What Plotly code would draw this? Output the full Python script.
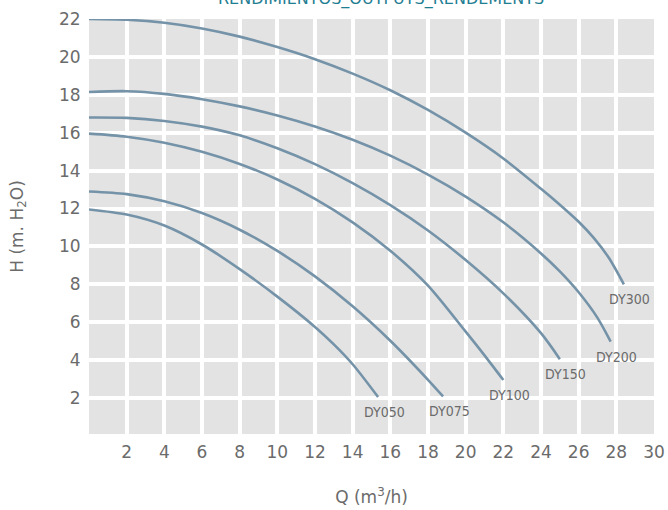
import plotly.graph_objects as go

# ---- data ----
names = ["DY050", "DY075", "DY100", "DY150", "DY200", "DY300"]

q_dy050 = [0, 2, 4, 6, 8, 10, 12, 13, 14, 15.35]
h_dy050 = [11.95, 11.68, 11.1, 10.1, 8.8, 7.35, 5.75, 4.83, 3.78, 2.05]

q_dy075 = [0, 2, 4, 6, 8, 10, 12, 14, 16, 18, 18.8]
h_dy075 = [12.9, 12.76, 12.38, 11.76, 10.88, 9.76, 8.42, 6.84, 5.02, 2.96, 2.08]

q_dy100 = [0, 2, 4, 6, 8, 10, 12, 14, 16, 18, 20, 21, 22]
h_dy100 = [15.95, 15.79, 15.47, 14.99, 14.35, 13.53, 12.51, 11.27, 9.77, 7.93, 5.5, 4.25, 2.95]

q_dy150 = [0, 2, 4, 6, 8, 10, 12, 14, 16, 18, 20, 22, 24, 25]
h_dy150 = [16.8, 16.78, 16.62, 16.32, 15.86, 15.18, 14.34, 13.34, 12.18, 10.84, 9.28, 7.52, 5.42, 4.05]

q_dy200 = [0, 2, 4, 6, 8, 10, 12, 14, 16, 18, 20, 22, 24, 25, 26, 27, 27.7]
h_dy200 = [18.15, 18.19, 18.05, 17.77, 17.39, 16.91, 16.33, 15.63, 14.79, 13.79, 12.63, 11.27, 9.63, 8.68, 7.58, 6.23, 4.97]

q_dy300 = [0, 2, 4, 6, 8, 10, 12, 14, 16, 18, 20, 22, 24, 25, 26, 26.8, 27.6, 28.4]
h_dy300 = [22.0, 21.96, 21.8, 21.5, 21.07, 20.52, 19.88, 19.12, 18.24, 17.2, 16.0, 14.64, 13.04, 12.2, 11.3, 10.45, 9.4, 8.0]

x_ticks = [2, 4, 6, 8, 10, 12, 14, 16, 18, 20, 22, 24, 26, 28, 30]
y_ticks = [2, 4, 6, 8, 10, 12, 14, 16, 18, 20, 22]

title_text = "RENDIMIENTOS_OUTPUTS_RENDEMENTS"
x_title = "Q (m<sup>3</sup>/h)"
y_title = "H (m. H<sub>2</sub>O)"

series = [
    (q_dy050, h_dy050),
    (q_dy075, h_dy075),
    (q_dy100, h_dy100),
    (q_dy150, h_dy150),
    (q_dy200, h_dy200),
    (q_dy300, h_dy300),
]

LINE = "#7593a8"
TXT = "#6b6b6b"
FONT = "DejaVu Sans, sans-serif"
NARROW = "Liberation Sans Narrow, DejaVu Sans Condensed, sans-serif"

fig = go.Figure()
for name, (q, h) in zip(names, series):
    fig.add_trace(go.Scatter(
        x=q, y=h, mode="lines", name=name,
        line=dict(color=LINE, width=2.6, shape="spline", smoothing=0.8),
        hoverinfo="skip",
    ))
    fig.add_annotation(
        x=q[-1], y=h[-1], xref="x", yref="y", text=name, showarrow=False,
        xanchor="center", yanchor="middle", xshift=6, yshift=-15,
        font=dict(family=NARROW, size=14, color=TXT),
    )

fig.add_annotation(
    x=0.517, y=1, xref="paper", yref="paper", text=title_text, showarrow=False,
    xanchor="center", yanchor="bottom", yshift=8,
    font=dict(family=FONT, size=16, color="#1f7e92"),
)

fig.update_layout(
    width=668, height=510,
    margin=dict(l=89, r=14, t=19, b=76),
    paper_bgcolor="white",
    plot_bgcolor="#e3e3e3",
    showlegend=False,
    font=dict(family=FONT, size=17, color=TXT),
)
fig.update_xaxes(
    range=[0, 30], tickvals=x_ticks, ticktext=[str(v) for v in x_ticks],
    showgrid=True, gridcolor="white", gridwidth=3.5, zeroline=False,
    showline=False, ticks="outside", ticklen=3, tickcolor="rgba(0,0,0,0)",
    tickfont=dict(family=FONT, size=17, color=TXT), automargin=False,
    title=dict(text=x_title, font=dict(family=FONT, size=17, color=TXT), standoff=29),
)
fig.update_yaxes(
    range=[0.1, 22], tickvals=y_ticks, ticktext=[str(v) for v in y_ticks],
    showgrid=True, gridcolor="white", gridwidth=3.5, zeroline=False,
    showline=False, ticks="outside", ticklen=4, tickcolor="rgba(0,0,0,0)",
    tickfont=dict(family=FONT, size=17, color=TXT), automargin=False,
    title=dict(text=y_title, font=dict(family=FONT, size=17, color=TXT), standoff=31),
)

fig.write_html("out.html", config={"displayModeBar": False},
               post_script="document.body.style.margin='0';")
